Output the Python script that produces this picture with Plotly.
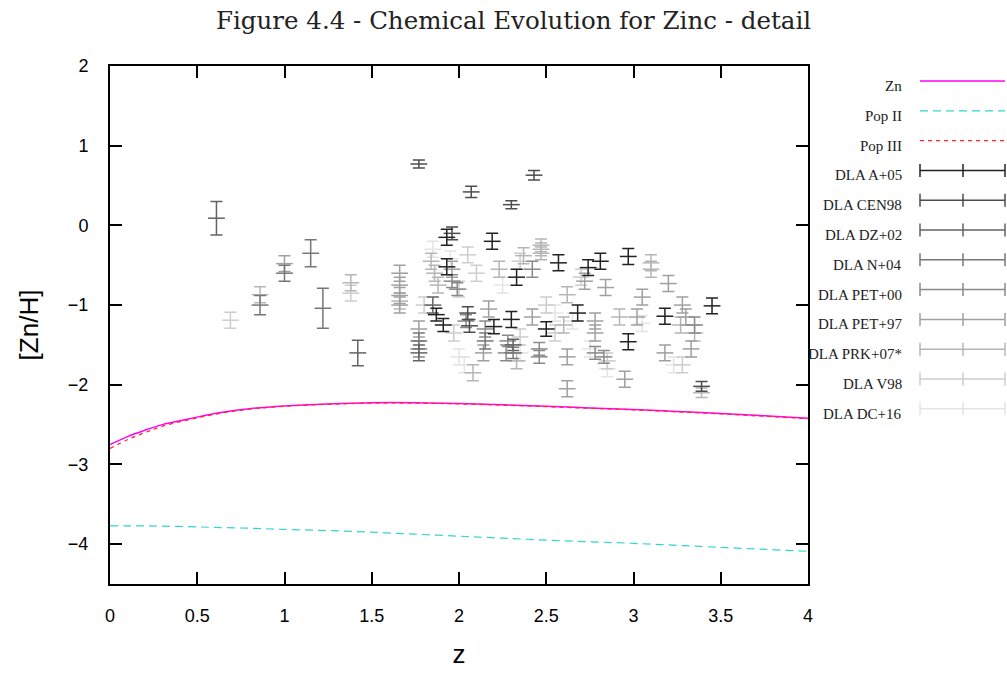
import plotly.graph_objects as go

# ---------------- model curves ----------------
z_model = [0, 0.1, 0.2, 0.3, 0.45, 0.6, 0.8, 1.0, 1.25, 1.5, 1.75, 2.0, 2.25, 2.5, 2.75, 3.0, 3.25, 3.5, 3.75, 4.0]
zn_model = [-2.75, -2.65, -2.57, -2.50, -2.43, -2.36, -2.30, -2.265, -2.24, -2.225, -2.225, -2.235, -2.25, -2.27, -2.29, -2.31, -2.335, -2.36, -2.39, -2.42]
pop3_model = [-2.80, -2.69, -2.60, -2.52, -2.44, -2.37, -2.305, -2.27, -2.245, -2.23, -2.23, -2.24, -2.255, -2.275, -2.295, -2.315, -2.34, -2.365, -2.395, -2.425]
pop2_model = [-3.77, -3.77, -3.77, -3.775, -3.78, -3.79, -3.80, -3.815, -3.83, -3.85, -3.875, -3.90, -3.925, -3.95, -3.97, -3.99, -4.015, -4.04, -4.065, -4.09]

# ---------------- DLA observations ----------------
a05_z = [1.87, 1.91, 1.93, 1.93, 2.19, 2.20, 2.33, 2.30, 2.50, 2.57, 2.68, 2.74, 2.81, 2.97, 2.97, 3.18, 3.45]
a05_y = [-1.12, -1.25, -0.15, -0.52, -0.20, -1.27, -0.65, -1.18, -1.30, -0.47, -1.10, -0.53, -0.45, -0.39, -1.46, -1.14, -1.01]
a05_e = [0.08, 0.08, 0.10, 0.10, 0.10, 0.09, 0.10, 0.10, 0.09, 0.10, 0.10, 0.10, 0.10, 0.10, 0.10, 0.10, 0.10]

cen_z = [1.77, 2.07, 2.30, 2.43, 2.05, 2.06, 3.39, 1.96]
cen_y = [0.77, 0.42, 0.26, 0.63, -1.10, -1.26, -2.02, -0.10]
cen_e = [0.05, 0.07, 0.05, 0.06, 0.08, 0.08, 0.06, 0.08]

dz_z = [0.61, 1.42, 1.85, 1.77, 2.31]
dz_y = [0.09, -1.60, -1.00, -1.60, -1.50]
dz_e = [0.21, 0.16, 0.10, 0.10, 0.07]

n04_z = [0.86, 1.15, 1.22, 1.00, 2.15, 2.31, 1.77]
n04_y = [-1.00, -0.35, -1.04, -0.60, -1.45, -1.60, -1.45]
n04_e = [0.12, 0.17, 0.25, 0.10, 0.10, 0.07, 0.10]

p00_z = [1.96, 1.99, 2.04, 2.15, 2.28, 2.46, 2.46, 2.42, 2.78, 2.83, 3.35, 2.27, 1.77]
p00_y = [-0.70, -0.80, -1.20, -1.30, -1.45, -1.55, -1.65, -0.55, -1.60, -1.65, -1.25, -1.60, -1.55]
p00_e = [0.08, 0.08, 0.08, 0.10, 0.07, 0.08, 0.08, 0.10, 0.08, 0.08, 0.10, 0.10, 0.10]

p97_z = [1.00, 1.66, 1.66, 1.66, 1.66, 1.77, 2.17, 2.14, 2.62, 2.62, 2.78, 2.78, 3.05, 3.02, 3.18, 3.20, 3.28, 3.30, 3.33, 2.95, 2.72, 2.84, 2.42, 1.96]
p97_y = [-0.48, -0.60, -0.75, -0.88, -1.00, -1.30, -1.05, -1.60, -1.65, -2.05, -1.20, -1.35, -0.90, -1.15, -1.60, -0.73, -1.00, -1.15, -1.55, -1.93, -0.70, -0.78, -1.15, -0.55]
p97_e = [0.10] * 24

prk_z = [1.38, 1.66, 1.84, 1.86, 1.88, 2.08, 2.23, 2.37, 2.47, 2.47, 2.47, 2.62, 2.60, 3.10, 3.10, 2.92, 3.27, 3.35, 2.33, 3.39, 0.86]
prk_y = [-0.72, -0.95, -0.45, -0.60, -0.75, -1.85, -0.55, -0.38, -0.25, -0.30, -0.35, -0.87, -1.25, -0.47, -0.55, -1.15, -1.25, -1.35, -1.70, -2.10, -0.87]
prk_e = [0.10, 0.10, 0.10, 0.10, 0.10, 0.10, 0.10, 0.10, 0.08, 0.08, 0.08, 0.10, 0.10, 0.10, 0.10, 0.10, 0.10, 0.10, 0.10, 0.06, 0.10]

v98_z = [0.69, 1.38, 2.05, 2.00, 2.35, 2.10, 1.97, 2.50, 2.55, 2.85, 3.28, 2.35, 1.80, 2.70]
v98_y = [-1.19, -0.85, -0.37, -0.80, -0.45, -0.60, -1.35, -1.00, -1.35, -1.70, -1.75, -1.40, -1.00, -0.65]
v98_e = [0.10] * 14

dc_z = [1.85, 2.00, 2.03, 2.35, 2.75, 2.85, 3.05, 2.55, 2.25, 1.95, 3.23, 2.65]
dc_y = [-0.30, -1.65, -1.75, -1.60, -1.55, -1.80, -1.23, -1.10, -0.75, -0.42, -1.75, -1.20]
dc_e = [0.10] * 12

series_names = ["DLA A+05", "DLA CEN98", "DLA DZ+02", "DLA N+04", "DLA PET+00",
                "DLA PET+97", "DLA PRK+07*", "DLA V98", "DLA DC+16"]
series_z = [a05_z, cen_z, dz_z, n04_z, p00_z, p97_z, prk_z, v98_z, dc_z]
series_y = [a05_y, cen_y, dz_y, n04_y, p00_y, p97_y, prk_y, v98_y, dc_y]
series_e = [a05_e, cen_e, dz_e, n04_e, p00_e, p97_e, prk_e, v98_e, dc_e]
series_colors = ["#222222", "#4d4d4d", "#636363", "#777777", "#8a8a8a",
                 "#a0a0a0", "#b6b6b6", "#cdcdcd", "#e4e4e4"]

x_ticks = [0, 0.5, 1, 1.5, 2, 2.5, 3, 3.5, 4]
y_ticks = [-4, -3, -2, -1, 0, 1, 2]

ZN_COLOR = "#ff00ff"
POP2_COLOR = "#33d6cc"
POP3_COLOR = "#ff2a2a"

fig = go.Figure()

# draw light series first so dark ones sit on top
for name, zs, ys, es, col in reversed(list(zip(series_names, series_z, series_y, series_e, series_colors))):
    fig.add_trace(go.Scatter(
        x=zs, y=ys, mode="markers", name=name, showlegend=False,
        marker=dict(symbol="line-ew", size=12, line=dict(color=col, width=1.5), color=col),
        error_y=dict(type="data", array=es, visible=True, color=col, thickness=1.5, width=6),
    ))

fig.add_trace(go.Scatter(x=z_model, y=pop2_model, mode="lines", name="Pop II", showlegend=False,
                         line=dict(color=POP2_COLOR, width=1.2, dash="8px,5px", shape="spline")))
fig.add_trace(go.Scatter(x=z_model, y=zn_model, mode="lines", name="Zn", showlegend=False,
                         line=dict(color=ZN_COLOR, width=1.5, shape="spline")))
fig.add_trace(go.Scatter(x=z_model, y=pop3_model, mode="lines", name="Pop III", showlegend=False,
                         line=dict(color=POP3_COLOR, width=1.3, dash="4px,4px", shape="spline")))

# ---------------- custom gnuplot-style legend ----------------
W, H = 1007, 673
ML, MR, MT, MB = 110, 199, 66, 89
PW, PH = W - ML - MR, H - MT - MB

def px_x(p):
    return (p - ML) / PW

def px_y(p):
    return (H - MB - p) / PH

shapes = []
annotations = []
legend_entries = [("Zn", "line", ZN_COLOR, "solid"),
                  ("Pop II", "line", POP2_COLOR, "8px,5px"),
                  ("Pop III", "line", POP3_COLOR, "4px,4px")]
legend_entries += [(n, "err", c, None) for n, c in zip(series_names, series_colors)]

x_text, x0, x1, xm = 904, 920, 1005, 963
for i, (label, kind, col, dash) in enumerate(legend_entries):
    row = 81 + i * 29.8
    annotations.append(dict(
        x=px_x(x_text), y=px_y(row + 5), xref="paper", yref="paper",
        text=label, showarrow=False, xanchor="right", yanchor="middle",
        font=dict(family="Liberation Serif", size=15, color="#222222")))
    if kind == "line":
        shapes.append(dict(type="line", xref="paper", yref="paper",
                           x0=px_x(x0), x1=px_x(x1), y0=px_y(row), y1=px_y(row),
                           line=dict(color=col, width=1.3, dash=dash)))
    else:
        shapes.append(dict(type="line", xref="paper", yref="paper",
                           x0=px_x(x0), x1=px_x(x1), y0=px_y(row), y1=px_y(row),
                           line=dict(color=col, width=1.5)))
        for xx in (x0, xm, x1):
            shapes.append(dict(type="line", xref="paper", yref="paper",
                               x0=px_x(xx), x1=px_x(xx), y0=px_y(row - 6.5), y1=px_y(row + 6.5),
                               line=dict(color=col, width=1.5)))

fig.update_layout(
    width=W, height=H,
    margin=dict(l=ML, r=MR, t=MT, b=MB, autoexpand=False),
    paper_bgcolor="white", plot_bgcolor="white",
    title=dict(text="Figure 4.4 - Chemical Evolution for Zinc - detail",
               x=0.51, xref="container", xanchor="center", y=0.97, yref="container", yanchor="middle",
               font=dict(family="DejaVu Serif", size=24.5, color="#222222")),
    shapes=shapes, annotations=annotations,
    showlegend=False,
)

axis_common = dict(showgrid=False, zeroline=False, showline=True, linecolor="black", linewidth=2,
                   mirror="ticks", ticks="inside", ticklen=12, tickwidth=2, tickcolor="black",
                   automargin=False,
                   tickfont=dict(family="Liberation Sans", size=18, color="black"))

fig.update_xaxes(range=[0, 4], tickvals=x_ticks, ticktext=[f"{v:g}" for v in x_ticks],
                 ticklabelstandoff=14,
                 title=dict(text="z", font=dict(family="Liberation Sans", size=26, color="black"), standoff=20),
                 **axis_common)
fig.update_yaxes(range=[-4.5, 2], tickvals=y_ticks, ticktext=[f"{v:g}".replace("-", "\u2212") for v in y_ticks],
                 ticklabelstandoff=16,
                 title=dict(text="[Zn/H]", font=dict(family="Liberation Sans", size=26, color="black"), standoff=22),
                 **axis_common)

fig.write_html("out.html")
